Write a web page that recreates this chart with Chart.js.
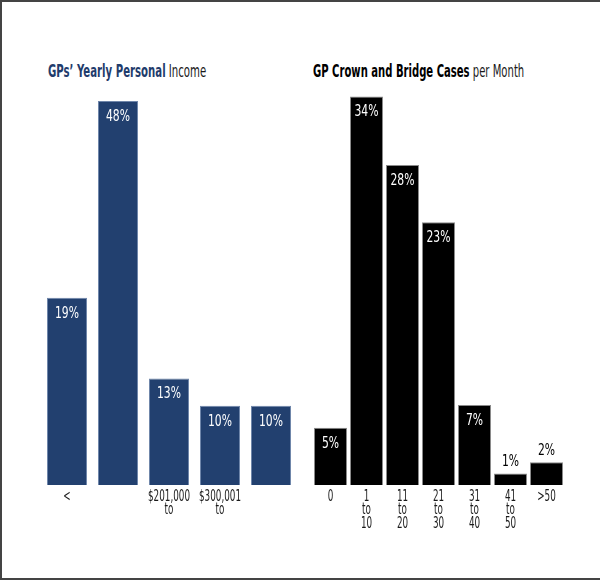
<!DOCTYPE html>
<html lang="en">
<head>
  <meta charset="UTF-8" />
  <title>GP Income and Crown and Bridge Cases</title>
  <script src="https://cdn.jsdelivr.net/npm/chart.js"></script>
  <style>
    html, body {
      margin: 0;
      padding: 0;
      width: 600px;
      height: 580px;
      overflow: hidden;
      background: #ffffff;
      font-family: 'DejaVu Sans Condensed', 'DejaVu Sans', sans-serif;
    }
    .frame {
      position: absolute;
      left: 0; top: 0;
      width: 620px; height: 576px;
      border: 2px solid #444444;
      border-right: none;
    }
    .title {
      position: absolute;
      top: 60px;
      font-size: 18px;
      line-height: 22px;
      color: #1a1a1a;
      white-space: nowrap;
      transform-origin: 0 50%;
    }
    .title b { font-weight: bold; }
    #incomeTitle { left: 48px; }
    #incomeTitle b { color: #1f3c6c; }
    #casesTitle { left: 313px; }
    #casesTitle b { color: #000000; }
    canvas { position: absolute; top: 0; }
    #incomeChart { left: 0; }
    #casesChart { left: 300px; }
  </style>
</head>
<body>
  <div class="frame"></div>
  <div class="title" id="incomeTitle" data-w="158"><b>GPs’ Yearly Personal</b> Income</div>
  <div class="title" id="casesTitle" data-w="211"><b>GP Crown and Bridge Cases</b> per Month</div>
  <canvas id="incomeChart" width="300" height="580"></canvas>
  <canvas id="casesChart" width="300" height="580"></canvas>

  <script>
    // left panel: income (bar heights as drawn, labels as printed)
    const incomeCategories = ['<', '', ['$201,000', 'to'], ['$300,001', 'to'], ''];
    const incomeHeights = [23.4, 48, 13.3, 9.9, 9.9];
    const incomeLabels = ['19%', '48%', '13%', '10%', '10%'];

    // right panel: crown and bridge cases per month
    const casesCategories = ['0', ['1', 'to', '10'], ['11', 'to', '20'], ['21', 'to', '30'], ['31', 'to', '40'], ['41', 'to', '50'], '>50'];
    const casesValues = [5, 34, 28, 23, 7, 1, 2];
    const casesLabels = ['5%', '34%', '28%', '23%', '7%', '1%', '2%'];

    const FAMILY = "'DejaVu Sans Condensed', 'DejaVu Sans', sans-serif";

    // squeeze the titles to the narrow width of the original typeface
    document.querySelectorAll('.title').forEach(el => {
      const sx = Number(el.dataset.w) / el.offsetWidth;
      el.style.transform = 'scaleX(' + sx + ')';
    });

    function narrowText(ctx, text, x, y, sx) {
      ctx.save();
      ctx.translate(x, y);
      ctx.scale(sx, 1);
      ctx.fillText(text, 0, 0);
      ctx.restore();
    }

    // percent text inside the bar top (or above short bars) + category labels
    const barText = {
      id: 'barText',
      afterDatasetsDraw(chart, args, opts) {
        const ctx = chart.ctx;
        const meta = chart.getDatasetMeta(0);
        const xs = chart.scales.x;
        const bottom = chart.chartArea.bottom;
        ctx.save();
        ctx.textAlign = 'center';
        ctx.textBaseline = 'middle';

        ctx.font = '15px ' + FAMILY;
        const sxVal = 24 / ctx.measureText('48%').width;
        meta.data.forEach((bar, i) => {
          const h = bar.base - bar.y;
          if (h > 35) {
            ctx.fillStyle = '#ffffff';
            narrowText(ctx, opts.texts[i], bar.x, bar.y + 16, sxVal);
          } else {
            ctx.fillStyle = '#000000';
            narrowText(ctx, opts.texts[i], bar.x, bar.y - 11, sxVal);
          }
        });

        ctx.font = '15px ' + FAMILY;
        ctx.fillStyle = '#1a1a1a';
        const sxTick = 42 / ctx.measureText('$201,000').width;
        chart.data.labels.forEach((cat, i) => {
          const lines = Array.isArray(cat) ? cat : [cat];
          const x = xs.getPixelForValue(i);
          lines.forEach((ln, k) => narrowText(ctx, ln, x, bottom + 12 + k * 13.5, sxTick));
        });
        ctx.restore();
      }
    };

    function makeChart(id, cats, values, texts, color, edge, barPct, yMax, padLeft, padRight) {
      return new Chart(document.getElementById(id).getContext('2d'), {
        type: 'bar',
        data: {
          labels: cats,
          datasets: [{
            data: values,
            backgroundColor: color,
            borderColor: edge,
            borderWidth: 1,
            categoryPercentage: 1,
            barPercentage: barPct
          }]
        },
        options: {
          responsive: false,
          animation: false,
          devicePixelRatio: 1,
          layout: { padding: { top: 85, bottom: 35, left: padLeft, right: padRight } },
          plugins: {
            legend: { display: false },
            tooltip: { enabled: false },
            barText: { texts: texts }
          },
          scales: {
            x: {
              grid: { display: false, drawTicks: false },
              border: { display: false },
              ticks: { display: false },
              afterFit: s => { s.height = 60; }
            },
            y: { display: false, min: 0, max: yMax }
          }
        },
        plugins: [barText]
      });
    }

    makeChart('incomeChart', incomeCategories, incomeHeights, incomeLabels,
      '#22406f', '#6f86aa', 40 / 51, 50, 41.5, 3.5);
    makeChart('casesChart', casesCategories, casesValues, casesLabels,
      '#000000', '#8a8a8a', 33 / 36, 35, 12.5, 35.5);
  </script>
</body>
</html>
